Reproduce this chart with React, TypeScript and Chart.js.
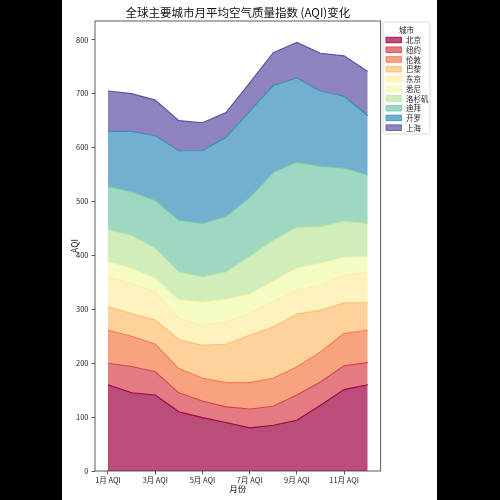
import { useEffect, useRef } from "react";
import { Chart, registerables } from "chart.js";

Chart.register(...registerables);

const months = ["1月 AQI", "2月 AQI", "3月 AQI", "4月 AQI", "5月 AQI", "6月 AQI", "7月 AQI", "8月 AQI", "9月 AQI", "10月 AQI", "11月 AQI", "12月 AQI"];
const cities = ["北京", "纽约", "伦敦", "巴黎", "东京", "悉尼", "洛杉矶", "迪拜", "开罗", "上海"];

const beijing = [160, 145, 141, 110, 99, 90, 80, 85, 94, 122, 151, 160];
const newYork = [40, 49, 43, 35, 31, 29, 35, 35, 47, 43, 44, 41];
const london = [61, 56, 51, 45, 42, 45, 49, 52, 52, 56, 60, 60];
const paris = [43, 42, 45, 54, 61, 71, 88, 95, 98, 77, 57, 51];
const tokyo = [56, 55, 52, 39, 37, 41, 40, 47, 44, 46, 51, 57];
const sydney = [28, 28, 25, 34, 43, 42, 36, 38, 41, 41, 33, 29];
const losAngeles = [60, 62, 56, 52, 47, 51, 70, 76, 76, 68, 67, 61];
const dubai = [80, 81, 89, 96, 99, 103, 109, 126, 121, 112, 99, 90];
const cairo = [102, 112, 120, 129, 135, 147, 160, 161, 156, 140, 133, 110];
const shanghai = [75, 70, 66, 56, 52, 46, 53, 61, 66, 70, 75, 82];

const series = [beijing, newYork, london, paris, tokyo, sydney, losAngeles, dubai, cairo, shanghai];

const xTickIndex = [0, 2, 4, 6, 8, 10];
const yTickValues = [0, 100, 200, 300, 400, 500, 600, 700, 800];

const chartTitle = "全球主要城市月平均空气质量指数 (AQI)变化";
const xTitle = "月份";
const yTitle = "AQI";
const legendTitle = "城市";

// Spectral colormap sampled at 10 even steps
const palette: [number, number, number][] = [
  [158, 1, 66],
  [216, 67, 78],
  [246, 123, 74],
  [253, 191, 111],
  [254, 238, 162],
  [241, 249, 169],
  [191, 229, 160],
  [117, 200, 165],
  [56, 142, 186],
  [94, 79, 162],
];

const FONT = "'Noto Sans CJK SC', 'DejaVu Sans', sans-serif";
const rgba = (c: [number, number, number], a: number) => `rgba(${c[0]},${c[1]},${c[2]},${a})`;

const overlayPlugin = {
  id: "overlay",
  afterDraw(chart: any) {
    const ctx: CanvasRenderingContext2D = chart.ctx;
    const area = chart.chartArea;
    ctx.save();
    // frame
    ctx.strokeStyle = "#333";
    ctx.lineWidth = 0.8;
    ctx.strokeRect(area.left, area.top, area.right - area.left, area.bottom - area.top);

    // title
    ctx.fillStyle = "#111";
    ctx.textAlign = "center";
    ctx.textBaseline = "middle";
    ctx.font = `11.5px ${FONT}`;
    ctx.fillText(chartTitle, (area.left + area.right) / 2, 13);

    // axis titles
    ctx.font = `8.5px ${FONT}`;
    ctx.fillText(xTitle, (area.left + area.right) / 2, 489);
    ctx.save();
    ctx.translate(13, (area.top + area.bottom) / 2);
    ctx.rotate(-Math.PI / 2);
    ctx.fillText(yTitle, 0, 0);
    ctx.restore();

    // legend
    const lx = 321, ly = 22, lw = 47, lh = 112;
    ctx.beginPath();
    const r = 2;
    ctx.moveTo(lx + r, ly);
    ctx.lineTo(lx + lw - r, ly);
    ctx.quadraticCurveTo(lx + lw, ly, lx + lw, ly + r);
    ctx.lineTo(lx + lw, ly + lh - r);
    ctx.quadraticCurveTo(lx + lw, ly + lh, lx + lw - r, ly + lh);
    ctx.lineTo(lx + r, ly + lh);
    ctx.quadraticCurveTo(lx, ly + lh, lx, ly + lh - r);
    ctx.lineTo(lx, ly + r);
    ctx.quadraticCurveTo(lx, ly, lx + r, ly);
    ctx.closePath();
    ctx.fillStyle = "rgba(255,255,255,0.85)";
    ctx.fill();
    ctx.strokeStyle = "#d0d0d0";
    ctx.lineWidth = 0.8;
    ctx.stroke();

    ctx.fillStyle = "#222";
    ctx.font = `7.5px ${FONT}`;
    ctx.textAlign = "center";
    ctx.fillText(legendTitle, lx + lw / 2, 30.5);
    ctx.textAlign = "left";
    cities.forEach((name, k) => {
      const cy = 40 + k * 9.74;
      ctx.fillStyle = rgba(palette[k], 0.7);
      ctx.fillRect(324, cy - 2.8, 15.5, 5.6);
      ctx.strokeStyle = rgba(palette[k], 1);
      ctx.lineWidth = 0.8;
      ctx.strokeRect(324, cy - 2.8, 15.5, 5.6);
      ctx.fillStyle = "#222";
      ctx.fillText(name, 344, cy + 0.3);
    });
    ctx.restore();
  },
};

export default function App() {
  const canvasRef = useRef<HTMLCanvasElement | null>(null);

  useEffect(() => {
    const canvas = canvasRef.current;
    if (!canvas) return;
    const datasets = cities.map((name, k) => ({
      label: name,
      data: series[k].map((v, i) => ({ x: i, y: v })),
      fill: k === 0 ? "origin" : "-1",
      backgroundColor: rgba(palette[k], 0.7),
      borderColor: rgba(palette[k], 1),
      borderWidth: 1.1,
      pointRadius: 0,
      pointHoverRadius: 0,
      tension: 0,
    }));

    const chart = new Chart(canvas, {
      type: "line",
      data: { datasets: datasets as any },
      plugins: [overlayPlugin],
      options: {
        responsive: false,
        animation: false,
        layout: { padding: { left: 0, right: 56.3, top: 21, bottom: 0 } },
        plugins: {
          legend: { display: false },
          tooltip: { enabled: false },
          title: { display: false },
        },
        scales: {
          x: {
            type: "linear",
            min: -0.55,
            max: 11.55,
            afterBuildTicks: (s: any) => {
              s.ticks = xTickIndex.map((v) => ({ value: v }));
            },
            afterFit: (s: any) => {
              s.height = 29;
            },
            grid: { display: true, drawOnChartArea: false, drawTicks: true, tickLength: 3.5, color: "#333", lineWidth: 0.8 },
            border: { display: false },
            ticks: {
              autoSkip: false,
              maxRotation: 0,
              padding: 1.5,
              color: "#222",
              font: { family: FONT, size: 7.5 },
              callback: (v: any) => months[Math.round(Number(v))] ?? "",
            },
          },
          y: {
            type: "linear",
            stacked: true,
            min: 0,
            max: 834.75,
            afterBuildTicks: (s: any) => {
              s.ticks = yTickValues.map((v) => ({ value: v }));
            },
            afterFit: (s: any) => {
              s.width = 33;
            },
            grid: { display: true, drawOnChartArea: false, drawTicks: true, tickLength: 3.5, color: "#333", lineWidth: 0.8 },
            border: { display: false },
            ticks: {
              padding: 3,
              color: "#222",
              font: { family: FONT, size: 7.5 },
              callback: (v: any) => String(v),
            },
          },
        },
      },
    });
    return () => chart.destroy();
  }, []);

  return (
    <div style={{ position: "fixed", left: 0, top: 0, width: 500, height: 500, background: "#000" }}>
      <div style={{ position: "absolute", left: 62, top: 0, width: 375, height: 500, background: "#fff" }}>
        <canvas ref={canvasRef} width={375} height={500} style={{ width: 375, height: 500, display: "block" }} />
      </div>
    </div>
  );
}
